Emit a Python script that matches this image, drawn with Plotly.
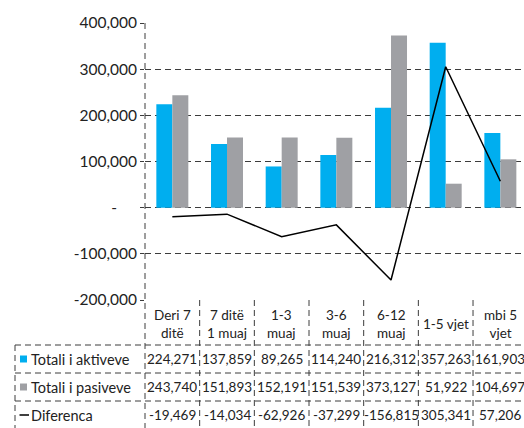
import plotly.graph_objects as go

categories = ["Deri 7<br>ditë", "7 ditë<br>1 muaj", "1-3<br>muaj", "3-6<br>muaj",
              "6-12<br>muaj", "1-5 vjet", "mbi 5<br>vjet"]
aktive = [224271, 137859, 89265, 114240, 216312, 357263, 161903]
pasive = [243740, 151893, 152191, 151539, 373127, 51922, 104697]
diferenca = [-19469, -14034, -62926, -37299, -156815, 305341, 57206]
series_names = ["Totali i aktiveve", "Totali i pasiveve", "Diferenca"]
ytick_vals = [400000, 300000, 200000, 100000, 0, -100000, -200000]
ytick_text = ["400,000", "300,000", "200,000", "100,000", "-\u00a0\u00a0\u00a0\u00a0\u00a0", "-100,000", "-200,000"]

BLUE = "#00AEEF"
GRAY = "#9FA0A4"
GRID = "#3c3c3c"
DASH = "6px,4px"
FONT = "Lato"

W, H = 524, 428
ML, MT, MB = 145, 23, 128
plot_h = H - MT - MB
cat_w = 54.67
x0 = -0.5
x1 = x0 + (W - ML) / cat_w

def py(pix):
    return (H - MB - pix) / plot_h

def pxx(pix):
    return (pix - ML) / (W - ML)

xs = list(range(len(categories)))

fig = go.Figure()
fig.add_trace(go.Bar(x=xs, y=aktive, marker_color=BLUE, marker_line_width=0, name=series_names[0]))
fig.add_trace(go.Bar(x=xs, y=pasive, marker_color=GRAY, marker_line_width=0, name=series_names[1]))
fig.add_trace(go.Scatter(x=xs, y=diferenca, mode="lines", line=dict(color="black", width=1.5),
                         name=series_names[2]))

shapes = []
anns = []
line_style = dict(color=GRID, width=1, dash=DASH)

# y-axis dashed line extending into table
shapes.append(dict(type="line", xref="paper", yref="paper", x0=0, x1=0, y0=1, y1=py(H + 2), line=line_style))
# vertical column lines in table
for i in range(len(categories)):
    shapes.append(dict(type="line", xref="x", yref="paper", x0=i + 0.5, x1=i + 0.5,
                       y0=0, y1=py(H + 2), line=line_style))
# horizontal row lines
row_tops = [345, 373, 401]
for yy in row_tops:
    shapes.append(dict(type="line", xref="paper", yref="paper", x0=pxx(15), x1=1,
                       y0=py(yy), y1=py(yy), line=line_style))
# left border of legend column
shapes.append(dict(type="line", xref="paper", yref="paper", x0=pxx(15), x1=pxx(15),
                   y0=py(345), y1=py(H + 2), line=line_style))

# header category labels
for i, c in enumerate(categories):
    anns.append(dict(x=i, y=py(324), xref="x", yref="paper", text=c, showarrow=False,
                     font=dict(size=13.5, color="#222", family=FONT), xanchor="center", yanchor="middle"))

row_centers = [359, 387, 415]
rows = [aktive, pasive, diferenca]
for r, vals in enumerate(rows):
    for i, v in enumerate(vals):
        anns.append(dict(x=i, y=py(row_centers[r]), xref="x", yref="paper", text=f"{v:,}", showarrow=False,
                         font=dict(size=13.5, color="#222", family=FONT), xanchor="center", yanchor="middle"))
    anns.append(dict(x=pxx(29), y=py(row_centers[r]), xref="paper", yref="paper",
                     text=series_names[r], showarrow=False,
                     font=dict(size=14.5, color="#222", family=FONT), xanchor="left", yanchor="middle"))

# legend keys
for r, col in enumerate([BLUE, GRAY]):
    cy = row_centers[r]
    shapes.append(dict(type="rect", xref="paper", yref="paper", x0=pxx(20), x1=pxx(27),
                       y0=py(cy + 3.5), y1=py(cy - 3.5), fillcolor=col, line=dict(width=0)))
shapes.append(dict(type="line", xref="paper", yref="paper", x0=pxx(19.5), x1=pxx(29),
                   y0=py(row_centers[2]), y1=py(row_centers[2]), line=dict(color="black", width=1.5)))

fig.update_layout(
    width=W, height=H,
    margin=dict(l=ML, r=0, t=MT, b=MB, pad=0),
    paper_bgcolor="white", plot_bgcolor="white",
    barmode="group", bargap=0.415, bargroupgap=0,
    showlegend=False,
    shapes=shapes, annotations=anns,
    font=dict(family=FONT, color="#222"),
)
fig.update_xaxes(range=[x0, x1], showticklabels=False, showgrid=False, zeroline=False,
                 showline=False, ticks="")
fig.update_yaxes(range=[-200000, 400000], tickvals=ytick_vals, ticktext=ytick_text,
                 showgrid=True, gridcolor=GRID, griddash=DASH, gridwidth=1,
                 zeroline=False, showline=False, ticks="outside", ticklen=4, tickcolor=GRID,
                 tickfont=dict(size=15.5, color="#222", family=FONT))

fig.write_html("out.html", config={"displayModeBar": False},
               post_script="document.body.style.margin='0';document.body.style.overflow='hidden';")
